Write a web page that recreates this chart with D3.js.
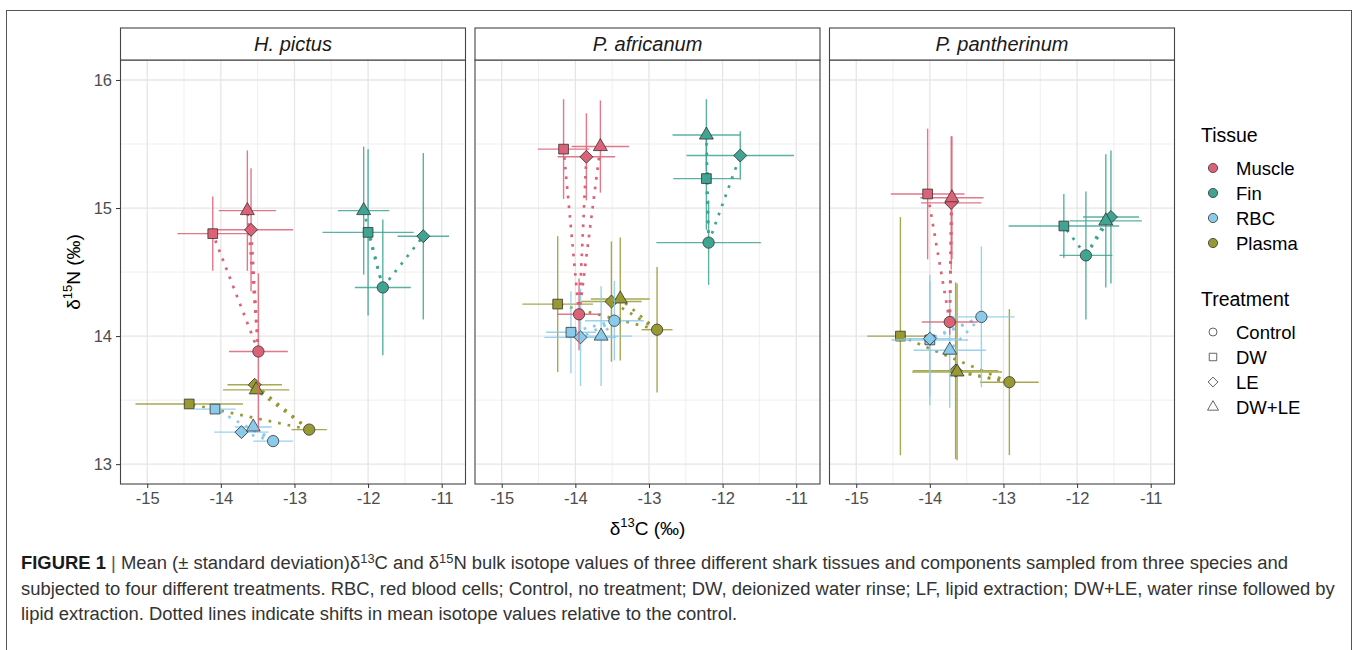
<!DOCTYPE html>
<html>
<head>
<meta charset="utf-8">
<script src="https://cdn.jsdelivr.net/npm/d3@7"></script>
<style>
  body { margin: 0; background: #fff; }
  text { font-family: "Liberation Sans", Arial, sans-serif; }
</style>
</head>
<body>
<div id="chart"></div>
<script>
// species, tissues and treatments
const species = ["H. pictus", "P. africanum", "P. pantherinum"];
const tissues = ["Muscle", "Fin", "RBC", "Plasma"];
const treatments = ["Control", "DW", "LE", "DW+LE"];
const tissueColors = ["#dc6277", "#3fa592", "#8acbec", "#999933"];

// rows = tissue (Muscle, Fin, RBC, Plasma), cols = treatment (Control, DW, LE, DW+LE)
// H. pictus
const hpC    = [[-13.49, -14.11, -13.59, -13.64], [-11.80, -12.00, -11.25, -12.06], [-13.29, -14.08, -13.72, -13.56], [-12.80, -14.43, -13.54, -13.52]];
const hpCsd  = [[0.40, 0.48, 0.57, 0.39], [0.38, 0.62, 0.35, 0.35], [0.27, 0.28, 0.37, 0.25], [0.24, 0.73, 0.37, 0.45]];
const hpN    = [[13.88, 14.80, 14.83, 14.98], [14.38, 14.81, 14.78, 14.98], [13.18, 13.43, 13.25, 13.29], [13.27, 13.47, 13.62, 13.58]];
const hpNsd  = [[0.61, 0.29, 0.48, 0.47], [0.53, 0.65, 0.65, 0.50], [0.03, 0.03, 0.03, 0.03], [0.03, 0.03, 0.03, 0.03]];
// P. africanum
const paC    = [[-13.95, -14.16, -13.85, -13.66], [-12.19, -12.22, -11.76, -12.22], [-13.47, -14.06, -13.93, -13.65], [-12.89, -14.24, -13.51, -13.39]];
const paCsd  = [[0.30, 0.35, 0.39, 0.39], [0.71, 0.45, 0.73, 0.46], [0.40, 0.34, 0.49, 0.42], [0.21, 0.48, 0.41, 0.40]];
const paN    = [[14.17, 15.46, 15.40, 15.48], [14.73, 15.23, 15.41, 15.57], [14.12, 14.03, 13.99, 14.00], [14.05, 14.25, 14.27, 14.29]];
const paNsd  = [[0.28, 0.39, 0.34, 0.36], [0.33, 0.40, 0.19, 0.28], [0.31, 0.32, 0.38, 0.39], [0.49, 0.53, 0.47, 0.48]];
// P. pantherinum
const ppC    = [[-13.73, -14.03, -13.71, -13.70], [-11.88, -12.18, -11.54, -11.61], [-13.30, -14.00, -14.00, -13.73], [-12.92, -14.40, -13.65, -13.63]];
const ppCsd  = [[0.38, 0.50, 0.41, 0.43], [0.36, 0.75, 0.38, 0.49], [0.45, 0.52, 0.35, 0.49], [0.40, 0.45, 0.58, 0.61]];
const ppN    = [[14.11, 15.11, 15.04, 15.08], [14.63, 14.86, 14.93, 14.90], [14.15, 13.97, 13.98, 13.89], [13.64, 14.00, 13.73, 13.72]];
const ppNsd  = [[0.10, 0.51, 0.52, 0.48], [0.50, 0.25, 0.52, 0.52], [0.55, 0.51, 0.45, 0.45], [0.57, 0.93, 0.69, 0.69]];

const cMean = [hpC, paC, ppC];
const cSd = [hpCsd, paCsd, ppCsd];
const nMean = [hpN, paN, ppN];
const nSd = [hpNsd, paNsd, ppNsd];

const xTicks = [-15, -14, -13, -12, -11];
const yTicks = [13, 14, 15, 16];

const width = 1357, height = 650;
const panelX = [120, 474.5, 829];
const panelW = 346;
const stripTop = 28, plotTop = 60, plotBottom = 484;

const svg = d3.select("#chart").append("svg")
    .attr("width", width)
    .attr("height", height);

// outer figure frame (runs off the bottom like the source)
svg.append("rect")
    .attr("x", 6.5).attr("y", 10.5)
    .attr("width", 1345).attr("height", 700)
    .attr("fill", "none").attr("stroke", "#555").attr("stroke-width", 1);

const x = d3.scaleLinear().domain([-15.37, -10.67]).range([0, panelW]);
const y = d3.scaleLinear().domain([12.845, 16.156]).range([plotBottom, plotTop]);

const shapes = [d3.symbolCircle, d3.symbolSquare, d3.symbolSquare, d3.symbolTriangle];
const shapeSize = [100, 95, 84, 84];
const shapeRotate = [0, 0, 45, 0];

// draw order bottom -> top
const drawOrder = [3, 2, 1, 0];

species.forEach((sp, si) => {
    const g = svg.append("g").attr("transform", `translate(${panelX[si]},0)`);

    // grid
    const minorX = d3.range(-15.5, -10.5, 0.5).filter(v => v % 1 !== 0 && v > -15.37 && v < -10.67);
    const minorY = d3.range(12.5, 16.5, 0.5).filter(v => v % 1 !== 0 && v > 12.845 && v < 16.156);
    g.selectAll(".gxm").data(minorX).enter().append("line")
        .attr("x1", d => x(d)).attr("x2", d => x(d))
        .attr("y1", plotTop).attr("y2", plotBottom)
        .attr("stroke", "#ebebeb").attr("stroke-width", 0.8);
    g.selectAll(".gym").data(minorY).enter().append("line")
        .attr("x1", 0).attr("x2", panelW)
        .attr("y1", d => y(d)).attr("y2", d => y(d))
        .attr("stroke", "#ebebeb").attr("stroke-width", 0.8);
    g.selectAll(".gx").data(xTicks).enter().append("line")
        .attr("x1", d => x(d)).attr("x2", d => x(d))
        .attr("y1", plotTop).attr("y2", plotBottom)
        .attr("stroke", "#e6e6e6").attr("stroke-width", 1.3);
    g.selectAll(".gy").data(yTicks).enter().append("line")
        .attr("x1", 0).attr("x2", panelW)
        .attr("y1", d => y(d)).attr("y2", d => y(d))
        .attr("stroke", "#e6e6e6").attr("stroke-width", 1.3);

    // marks, one tissue at a time
    drawOrder.forEach(ti => {
        const col = tissueColors[ti];
        const pts = treatments.map((tr, k) => ({
            k: k,
            cx: cMean[si][ti][k], csd: cSd[si][ti][k],
            ny: nMean[si][ti][k], nsd: nSd[si][ti][k]
        }));
        const tg = g.append("g");
        // vertical error bars
        tg.selectAll(".ev").data(pts).enter().append("line")
            .attr("x1", d => x(d.cx)).attr("x2", d => x(d.cx))
            .attr("y1", d => y(d.ny - d.nsd)).attr("y2", d => y(d.ny + d.nsd))
            .attr("stroke", col).attr("stroke-width", 1.4).attr("opacity", 0.85);
        // horizontal error bars
        tg.selectAll(".eh").data(pts).enter().append("line")
            .attr("x1", d => x(d.cx - d.csd)).attr("x2", d => x(d.cx + d.csd))
            .attr("y1", d => y(d.ny)).attr("y2", d => y(d.ny))
            .attr("stroke", col).attr("stroke-width", 1.4).attr("opacity", 0.85);
        // dotted shifts from the control
        const ctrl = pts[0];
        tg.selectAll(".shift").data(pts.slice(1)).enter().append("line")
            .attr("x1", x(ctrl.cx)).attr("y1", y(ctrl.ny))
            .attr("x2", d => x(d.cx)).attr("y2", d => y(d.ny))
            .attr("stroke", col).attr("stroke-width", 2.7)
            .attr("stroke-dasharray", "2.7 7");
        // points
        tg.selectAll(".pt").data(pts).enter().append("path")
            .attr("d", d => d3.symbol().type(shapes[d.k]).size(shapeSize[d.k])())
            .attr("transform", d => `translate(${x(d.cx)},${y(d.ny)}) rotate(${shapeRotate[d.k]})`)
            .attr("fill", col).attr("stroke", "#333").attr("stroke-width", 0.8);
    });

    // panel border
    g.append("rect")
        .attr("x", 0.5).attr("y", plotTop)
        .attr("width", panelW - 1).attr("height", plotBottom - plotTop)
        .attr("fill", "none").attr("stroke", "#444").attr("stroke-width", 1.1);

    // strip
    g.append("rect")
        .attr("x", 0.5).attr("y", stripTop)
        .attr("width", panelW - 1).attr("height", plotTop - stripTop)
        .attr("fill", "#fff").attr("stroke", "#444").attr("stroke-width", 1.1);
    g.append("text")
        .attr("x", panelW / 2).attr("y", (stripTop + plotTop) / 2 + 7)
        .attr("text-anchor", "middle")
        .attr("font-size", 20).attr("font-style", "italic").attr("fill", "#1a1a1a")
        .text(sp);

    // x axis
    const xa = g.append("g").attr("transform", `translate(0,${plotBottom})`)
        .call(d3.axisBottom(x).tickValues(xTicks).tickSize(4).tickPadding(4).tickFormat(d => String(d)));
    xa.select(".domain").remove();
    xa.selectAll("line").attr("stroke", "#333");
    xa.selectAll("text").attr("font-size", 16.5).attr("fill", "#4d4d4d")
        .attr("font-family", "Liberation Sans, Arial, sans-serif");

    if (si === 0) {
        const ya = g.append("g")
            .call(d3.axisLeft(y).tickValues(yTicks).tickSize(4).tickPadding(4).tickFormat(d => String(d)));
        ya.select(".domain").remove();
        ya.selectAll("line").attr("stroke", "#333");
        ya.selectAll("text").attr("font-size", 16.5).attr("fill", "#4d4d4d")
            .attr("font-family", "Liberation Sans, Arial, sans-serif");
    }
});

// axis titles
const xt = svg.append("text")
    .attr("x", (panelX[0] + panelX[2] + panelW) / 2).attr("y", 535)
    .attr("text-anchor", "middle").attr("font-size", 19).attr("fill", "#000");
xt.append("tspan").text("δ");
xt.append("tspan").attr("font-size", 13).attr("dy", -8).text("13");
xt.append("tspan").attr("dy", 8).text("C (‰)");

const yt = svg.append("text")
    .attr("transform", `translate(80,${(plotTop + plotBottom) / 2}) rotate(-90)`)
    .attr("text-anchor", "middle").attr("font-size", 19).attr("fill", "#000");
yt.append("tspan").text("δ");
yt.append("tspan").attr("font-size", 13).attr("dy", -8).text("15");
yt.append("tspan").attr("dy", 8).text("N (‰)");

// legends
const leg = svg.append("g");
leg.append("text").attr("x", 1201).attr("y", 142).attr("font-size", 19.5).attr("fill", "#000").text("Tissue");
tissues.forEach((t, i) => {
    const yy = 168 + i * 25;
    leg.append("circle").attr("cx", 1213).attr("cy", yy).attr("r", 4.6)
        .attr("fill", tissueColors[i]).attr("stroke", "#333").attr("stroke-width", 0.8);
    leg.append("text").attr("x", 1236).attr("y", yy + 6.5).attr("font-size", 18.5).attr("fill", "#000").text(t);
});
leg.append("text").attr("x", 1201).attr("y", 306).attr("font-size", 19.5).attr("fill", "#000").text("Treatment");
const legSize = [50, 56, 48, 52];
treatments.forEach((t, i) => {
    const yy = 332 + i * 25;
    leg.append("path")
        .attr("d", d3.symbol().type(shapes[i]).size(legSize[i])())
        .attr("transform", `translate(1213,${yy}) rotate(${shapeRotate[i]})`)
        .attr("fill", "none").attr("stroke", "#555").attr("stroke-width", 0.9);
    leg.append("text").attr("x", 1236).attr("y", yy + 6.5).attr("font-size", 18.5).attr("fill", "#000").text(t);
});

// caption
const capLines = [
    [["b", "FIGURE 1 "], ["g", "| "], ["t", "Mean (± standard deviation)δ"], ["s", "13"], ["t", "C and δ"], ["s", "15"], ["t", "N bulk isotope values of three different shark tissues and components sampled from three species and"]],
    [["t", "subjected to four different treatments. RBC, red blood cells; Control, no treatment; DW, deionized water rinse; LF, lipid extraction; DW+LE, water rinse followed by"]],
    [["t", "lipid extraction. Dotted lines indicate shifts in mean isotope values relative to the control."]]
];
const capY = [569, 595, 620];
const capFont = 15.6;
const capNodes = capLines.map((parts, li) => {
    const t = svg.append("text").attr("x", 21).attr("y", capY[li])
        .attr("font-size", capFont).attr("fill", "#333");
    let afterSup = false;
    parts.forEach(([kind, s]) => {
        const sp = t.append("tspan").text(s);
        if (kind === "b") sp.attr("font-weight", "bold").attr("fill", "#1a1a1a");
        if (kind === "g") sp.attr("fill", "#555");
        if (kind === "s") sp.attr("class", "sup").attr("font-size", capFont * 0.7).attr("dy", -6);
        if (kind !== "s" && afterSup) sp.attr("dy", 6);
        afterSup = kind === "s";
    });
    return t;
});
// fit caption width to the reference (second line ends near x=1335)
const w2 = capNodes[1].node().getComputedTextLength();
const k = 1314 / w2;
capNodes.forEach(n => {
    n.attr("font-size", capFont * k);
    n.selectAll("tspan.sup").attr("font-size", capFont * k * 0.7);
});
</script>
</body>
</html>
